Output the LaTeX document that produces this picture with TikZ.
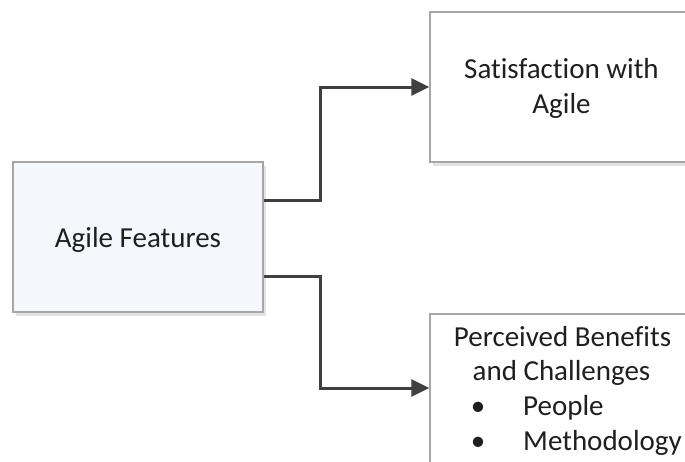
\documentclass[tikz,border=0pt]{standalone}
\usepackage{fontspec}
\setmainfont{Carlito}[Ligatures={NoCommon,NoRare,NoContextual}]
\usetikzlibrary{arrows.meta,shadows}
\definecolor{boxline}{HTML}{A6A6A6}
\definecolor{arrowc}{HTML}{404040}
\definecolor{lightblue}{HTML}{F4F8FC}
\tikzset{
  box/.style={draw=boxline, line width=1.3pt, rectangle, inner sep=0pt,
    drop shadow={shadow xshift=3pt, shadow yshift=-4pt, fill=black!18, opacity=0.6}},
  conn/.style={draw=arrowc, line width=3pt, -{Triangle[length=18pt,width=17pt]}},
  txt/.style={anchor=base, inner sep=0pt, font=\fontsize{29}{35}\selectfont, text=black!88}
}
\begin{document}
\begin{tikzpicture}[x=1pt,y=-1pt]
\useasboundingbox (0,0) rectangle (685,461);
\clip (0,0) rectangle (685,461);
\fill[white] (0,0) rectangle (685,461);
\node[box, fill=lightblue, minimum width=250pt, minimum height=150pt] (feat) at (138,237) {};
\node[box, fill=white, minimum width=263pt, minimum height=150pt] (sat) at (561.5,87) {};
\node[box, fill=white, minimum width=263pt, minimum height=152pt] (ben) at (561.5,390) {};
\node[txt] (tfeat) at (138,247) {Agile Features};
\node[txt] (tsat1) at (561.5,78) {Satisfaction with};
\node[txt] (tsat2) at (561.5,113) {Agile};
\node[txt] (tben1) at (562.5,346) {Perceived Benefits};
\node[txt] (tben2) at (561.5,380) {and Challenges};
\node[txt] (b1) at (478,415) {•};
\node[txt, anchor=base west] (tpeople) at (523,415) {People};
\node[txt] (b2) at (478,450) {•};
\node[txt, anchor=base west] (tmeth) at (523,450) {Methodology};
\draw[conn] ([yshift=37pt]feat.east) -- ++(57,0) |- (sat.west);
\draw[conn] ([yshift=-39pt]feat.east) -- ++(57,0) |- ([yshift=2pt]ben.west);
\end{tikzpicture}
\end{document}
